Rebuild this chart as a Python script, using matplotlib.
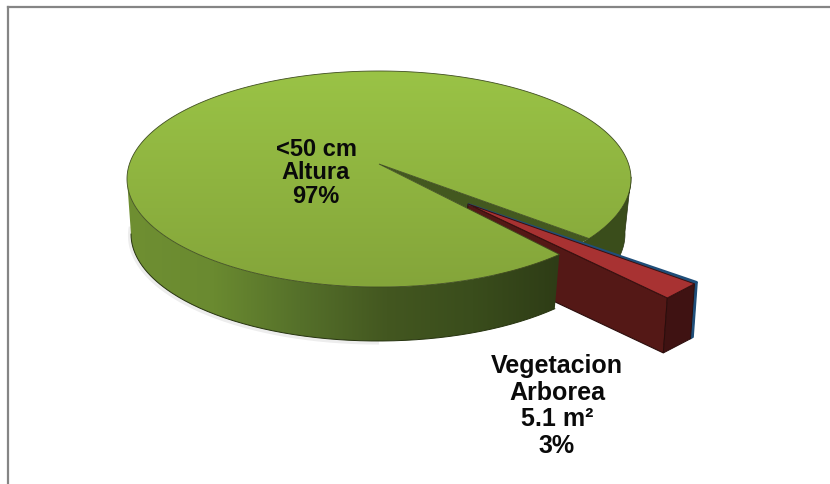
import numpy as np
import matplotlib
matplotlib.use('Agg')
import matplotlib.pyplot as plt
from matplotlib.colors import LinearSegmentedColormap
from matplotlib.patches import Polygon

# slice values (the 3% label covers the red + thin blue slice)
values = [97.0, 2.7, 0.3]
labels = ['<50 cm\nAltura\n97%', 'Vegetacion\nArborea\n5.1 m²\n3%']

plt.rcParams['font.family'] = ['Liberation Sans', 'DejaVu Sans']

fig = plt.figure(figsize=(8.3, 4.85), dpi=100)
ax = fig.add_axes([0, 0, 1, 1])
ax.set_xlim(0, 830)
ax.set_ylim(485, 0)
ax.axis('off')

# chart frame
ax.plot([8, 8], [485, 8], color='#858585', lw=1.6)
ax.plot([8, 830], [8, 8], color='#858585', lw=1.6)

# pie geometry in pixels
cx, cy, a, b = 379, 180, 252, 108
apex = np.array([379.0, 165.0])
d2 = np.array([-4.0, 55.0])
shift_rim = np.array([108.0, 43.5])
shift_apex = np.array([89.0, 40.0])
start = np.radians(33.5)   # screen angle, y down


def rim(t):
    t = np.asarray(t)
    return np.column_stack([cx + a*np.cos(t), cy + b*np.sin(t)])


def rim_low(t):
    t = np.asarray(t)
    return np.column_stack([cx - 1 + 247*np.cos(t), cy + 55 + 107*np.sin(t)])


fr = np.array(values)/sum(values)*2*np.pi
t_blue0 = start
t_blue1 = start + fr[2]
t_red1 = t_blue1 + fr[1]
t_green = np.linspace(t_red1, start + 2*np.pi, 400)


def grad(poly, colors, vertical=False, zorder=1):
    cmap = LinearSegmentedColormap.from_list('g', colors)
    d = np.linspace(0, 1, 256)
    d = d[:, None] if vertical else d[None, :]
    xs, ys = poly[:, 0], poly[:, 1]
    ext = [xs.min(), xs.max(), ys.max(), ys.min()]
    im = ax.imshow(d, cmap=cmap, extent=ext, aspect='auto', zorder=zorder)
    p = Polygon(poly, closed=True, transform=ax.transData, fc='none', ec='none')
    ax.add_patch(p)
    im.set_clip_path(p)


# soft shadow under the pie
front = t_green[(t_green > 0) & (t_green < np.pi)]
ax.plot(*(rim_low(np.linspace(np.pi*0.5, np.pi*1.02, 200)) + [-1, 1.5]).T, color='k', lw=3, alpha=0.07, zorder=0.5)

# green side wall right of the notch
back = np.linspace(-0.02, start + 0.1, 40)
wall = np.vstack([rim(back), rim_low(back)[::-1]])
ax.add_patch(Polygon(wall, closed=True, fc='#3a4d1b', ec='#26330f', lw=0.5, zorder=1))

# dark inner wall seen through the notch
inner = np.vstack([apex, rim([start]), rim([t_red1])])
ax.add_patch(Polygon(inner, closed=True, fc='#43581f', ec='none', zorder=1.2))

# exploded slices, long sides first so the green covers them
q = apex + shift_apex
b0, b1 = rim([t_blue0])[0] + shift_rim, rim([t_blue1])[0] + shift_rim
r1 = rim([t_red1])[0] + shift_rim
ax.add_patch(Polygon([q, r1, r1 + d2, q + d2], closed=True, fc='#541816', ec='#2b0d0c', lw=0.8, zorder=1.5))

# green side wall, front part
side = np.vstack([rim(front), rim_low(front)[::-1]])
grad(side, ['#6f8f32', '#6a8a30', '#55702a', '#435720', '#3a4d1c', '#2e3c16'], zorder=2)
ax.plot(*rim_low(front).T, color='#26330f', lw=0.7, zorder=2.1)

# green top
top = np.vstack([rim(t_green), apex])
grad(top, ['#9ac346', '#84a53a'], vertical=True, zorder=3)
ax.add_patch(Polygon(top, closed=True, fc='none', ec='#3f4d20', lw=0.6, zorder=3.1))

# blue sliver then red end and top faces
ax.add_patch(Polygon([q, b0, b1], closed=True, fc='#1f4e79', ec='#1f4e79', lw=1.4, zorder=4))
ax.add_patch(Polygon([b0, b0 + d2, b1 + d2, b1], closed=True, fc='#1f4e79', ec='#1f4e79', lw=1.0, zorder=4))
ax.add_patch(Polygon([b1, r1, r1 + d2, b1 + d2], closed=True, fc='#3f1212', ec='#2b0d0c', lw=0.7, zorder=5))
ax.add_patch(Polygon([q, b1, r1], closed=True, fc='#a83232', ec='#3a1010', lw=0.7, zorder=6))

# labels
ax.text(316, 173, labels[0], ha='center', va='center', fontsize=17, fontweight='bold',
        linespacing=1.03, color='#0a0a0a', zorder=8)
ax.text(557, 406, labels[1], ha='center', va='center', fontsize=18, fontweight='bold',
        linespacing=1.13, color='#0a0a0a', zorder=8)

fig.savefig('out.png', dpi=100)
